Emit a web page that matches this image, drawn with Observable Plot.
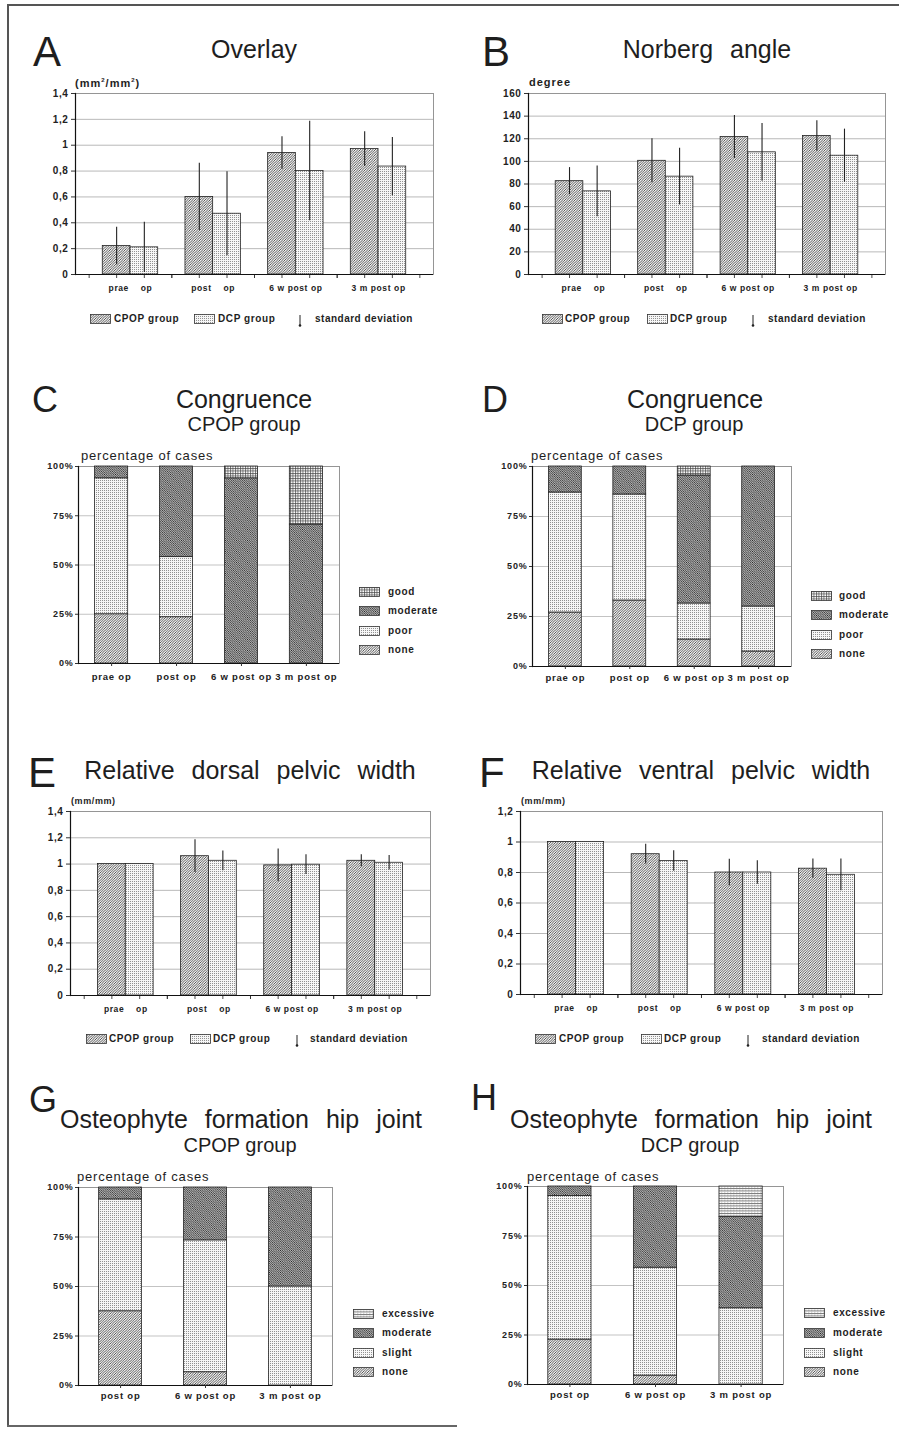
<!DOCTYPE html>
<html>
<head>
<meta charset="utf-8">
<script src="https://cdn.jsdelivr.net/npm/d3@7"></script>
<script src="https://cdn.jsdelivr.net/npm/@observablehq/plot@0.6"></script>
<style>
  html, body { margin: 0; padding: 0; background: #fff; }
  #page { position: relative; width: 899px; height: 1432px; overflow: hidden; background: #fff;
          font-family: "Liberation Sans", Arial, Helvetica, sans-serif; color: #1e1e1e; }
  .t { position: absolute; line-height: 1; white-space: nowrap; }
  .panel { position: absolute; }
  .line { position: absolute; background: #333; }
</style>
</head>
<body>
<svg width="0" height="0" style="position:absolute">
  <defs>
    <pattern id="pFwd" patternUnits="userSpaceOnUse" width="2.5" height="2.5">
      <rect width="2.5" height="2.5" fill="#f4f4f4"/>
      <path d="M-0.625,0.625 L0.625,-0.625 M0,2.5 L2.5,0 M1.875,3.125 L3.125,1.875" stroke="#2e2e2e" stroke-width="0.8"/>
    </pattern>
    <pattern id="pBack" patternUnits="userSpaceOnUse" width="2.2" height="2.2">
      <rect width="2.2" height="2.2" fill="#e6e6e6"/>
      <path d="M-0.55,1.65 L0.55,2.75 M0,0 L2.2,2.2 M1.65,-0.55 L2.75,0.55" stroke="#1e1e1e" stroke-width="0.8"/>
    </pattern>
    <pattern id="pDots" patternUnits="userSpaceOnUse" width="2" height="2">
      <rect width="2" height="2" fill="#f7f7f7"/>
      <rect x="0" y="0" width="0.9" height="0.9" fill="#7a7a7a"/>
    </pattern>
    <pattern id="pGrid" patternUnits="userSpaceOnUse" width="2.5" height="2.5">
      <rect width="2.5" height="2.5" fill="#fff"/>
      <path d="M0.5,0 L0.5,2.5 M0,0.5 L2.5,0.5" stroke="#444" stroke-width="0.7"/>
    </pattern>
    <pattern id="pHoriz" patternUnits="userSpaceOnUse" width="3" height="2.5">
      <rect width="3" height="2.5" fill="#fff"/>
      <path d="M0,0.5 L3,0.5" stroke="#444" stroke-width="0.75"/>
      <rect x="1.5" y="1.5" width="0.7" height="0.7" fill="#888"/>
    </pattern>
  </defs>
</svg>
<div id="page"></div>
<script>
// ---------------- DATA ----------------
const groups = ["prae op", "post op", "6 w post op", "3 m post op"];
const groupTickLabels = ["prae\u00a0\u00a0\u00a0\u00a0op", "post\u00a0\u00a0\u00a0\u00a0op", "6 w post op", "3 m post op"];
const seriesNames = ["CPOP group", "DCP group"];

// A: Overlay (mm²/mm²)
const overlayTicks = [0, 0.2, 0.4, 0.6, 0.8, 1, 1.2, 1.4];
const overlayCPOP   = [0.22, 0.60, 0.94, 0.97];
const overlayCPOPsd = [0.145, 0.26, 0.125, 0.135];
const overlayDCP    = [0.21, 0.47, 0.80, 0.835];
const overlayDCPsd  = [0.195, 0.325, 0.385, 0.225];

// B: Norberg angle (degree)
const norbergTicks = [0, 20, 40, 60, 80, 100, 120, 140, 160];
const norbergCPOP   = [82.5, 100.5, 121.5, 122.5];
const norbergCPOPsd = [12, 19.5, 19, 13.5];
const norbergDCP    = [73.5, 86.5, 108, 105];
const norbergDCPsd  = [22.5, 25, 25.5, 23.5];

// E: Relative dorsal pelvic width (mm/mm)
const dorsalTicks = [0, 0.2, 0.4, 0.6, 0.8, 1, 1.2, 1.4];
const dorsalCPOP   = [1.0, 1.06, 0.99, 1.025];
const dorsalCPOPsd = [0, 0.125, 0.125, 0.045];
const dorsalDCP    = [1.0, 1.025, 0.995, 1.01];
const dorsalDCPsd  = [0, 0.075, 0.075, 0.055];

// F: Relative ventral pelvic width (mm/mm)
const ventralTicks = [0, 0.2, 0.4, 0.6, 0.8, 1, 1.2];
const ventralCPOP   = [1.0, 0.92, 0.80, 0.825];
const ventralCPOPsd = [0, 0.065, 0.087, 0.063];
const ventralDCP    = [1.0, 0.875, 0.80, 0.785];
const ventralDCPsd  = [0, 0.067, 0.077, 0.104];

// C / D: Congruence (percentage of cases)
const percentTicks = [0, 25, 50, 75, 100];
const congruenceGrades = ["none", "poor", "moderate", "good"];
const congCPOPnone     = [25, 23.5, 0, 0];
const congCPOPpoor     = [69, 30.5, 0, 0];
const congCPOPmoderate = [6, 46, 94, 70.5];
const congCPOPgood     = [0, 0, 6, 29.5];
const congDCPnone      = [27, 33, 13.5, 7.5];
const congDCPpoor      = [60, 53, 18, 22.5];
const congDCPmoderate  = [13, 14, 64, 70];
const congDCPgood      = [0, 0, 4.5, 0];

// G / H: Osteophyte formation hip joint (percentage of cases)
const osteoGroups = ["post op", "6 w post op", "3 m post op"];
const osteoGrades = ["none", "slight", "moderate", "excessive"];
const osteoCPOPnone      = [37.5, 6.7, 0];
const osteoCPOPslight    = [56.5, 66.6, 50];
const osteoCPOPmoderate  = [6, 26.7, 50];
const osteoCPOPexcessive = [0, 0, 0];
const osteoDCPnone       = [22.7, 4.5, 0];
const osteoDCPslight     = [72.5, 54.5, 38.5];
const osteoDCPmoderate   = [4.8, 41, 46.1];
const osteoDCPexcessive  = [0, 0, 15.4];

// ---------------- HELPERS ----------------
const FONT = '"Liberation Sans", Arial, Helvetica, sans-serif';
const page = document.getElementById("page");
const decimalComma = d => String(d).replace(".", ",");
const gradePattern = {none: "url(#pFwd)", poor: "url(#pDots)", slight: "url(#pDots)",
                      moderate: "url(#pBack)", good: "url(#pGrid)", excessive: "url(#pHoriz)"};

function txt(s, x, baseline, size, opt = {}) {
  const el = document.createElement("div");
  el.className = "t";
  el.textContent = s;
  el.style.fontSize = size + "px";
  el.style.left = x + "px";
  el.style.top = (baseline - 0.8465 * size) + "px";
  if (opt.anchor === "middle") el.style.transform = "translateX(-50%)";
  if (opt.weight) el.style.fontWeight = opt.weight;
  if (opt.ls) el.style.letterSpacing = opt.ls + "px";
  if (opt.ws) el.style.wordSpacing = opt.ws + "px";
  if (opt.html) el.innerHTML = opt.html;
  page.appendChild(el);
  return el;
}
function swatch(x, cy, fill) {
  const ns = "http://www.w3.org/2000/svg";
  const s = document.createElementNS(ns, "svg");
  s.setAttribute("width", 21); s.setAttribute("height", 10);
  s.style.position = "absolute"; s.style.left = x + "px"; s.style.top = (cy - 5) + "px";
  const r = document.createElementNS(ns, "rect");
  r.setAttribute("x", 0.5); r.setAttribute("y", 0.5); r.setAttribute("width", 20); r.setAttribute("height", 9);
  r.setAttribute("fill", fill); r.setAttribute("stroke", "#333"); r.setAttribute("stroke-width", 0.8);
  s.appendChild(r); page.appendChild(s);
}
function sdSymbol(x, cy) {
  const ns = "http://www.w3.org/2000/svg";
  const s = document.createElementNS(ns, "svg");
  s.setAttribute("width", 6); s.setAttribute("height", 14);
  s.style.position = "absolute"; s.style.left = (x - 3) + "px"; s.style.top = (cy - 5) + "px";
  s.innerHTML = '<line x1="3" y1="1" x2="3" y2="11" stroke="#222" stroke-width="1"/><circle cx="3" cy="11.5" r="1.3" fill="#222"/>';
  page.appendChild(s);
}
function place(node, left, top, width) {
  const d = document.createElement("div");
  d.className = "panel";
  d.style.left = left + "px"; d.style.top = top + "px"; d.style.width = width + "px";
  d.appendChild(node);
  page.appendChild(d);
}

function groupedPanel(cfg) {
  const {left, top, width, height, mL, mR, mT, mB, ticks, cpop, cpopSd, dcp, dcpSd} = cfg;
  const pI = 0.33, pO = 0.33, n = groups.length;
  const step = (width - mL - mR) / (n - pI + 2 * pO);
  const bw = step * (1 - pI);
  const cp = groups.map((g, i) => ({group: g, series: seriesNames[0], value: cpop[i], sd: cpopSd[i]}));
  const dc = groups.map((g, i) => ({group: g, series: seriesNames[1], value: dcp[i], sd: dcpSd[i]}));
  const y0 = ticks[0];
  const tickRule = dx => Plot.ruleX(groups, {x: d => d, y1: y0, y2: y0, insetBottom: -4, dx, stroke: "#333", strokeWidth: 0.9});
  const plot = Plot.plot({
    width, height, marginLeft: mL, marginRight: mR, marginTop: mT, marginBottom: mB,
    style: {fontFamily: FONT, fontSize: "8.5px", fontWeight: "bold", background: "transparent",
            letterSpacing: "0.6px", color: "#222", overflow: "visible"},
    x: {type: "band", domain: groups, paddingInner: pI, paddingOuter: pO, round: false},
    y: {domain: [ticks[0], ticks[ticks.length - 1]]},
    marks: [
      Plot.gridY(ticks.slice(1, -1), {stroke: "#8a8a8a", strokeOpacity: 1, strokeWidth: 0.6}),
      Plot.frame({stroke: "#8a8a8a", strokeWidth: 0.9}),
      Plot.barY(cp, {x: "group", y: "value", fill: "url(#pFwd)", stroke: "#222", strokeWidth: 0.8, insetRight: bw / 2}),
      Plot.barY(dc, {x: "group", y: "value", fill: "url(#pDots)", stroke: "#222", strokeWidth: 0.8, insetLeft: bw / 2}),
      Plot.ruleX(cp.filter(d => d.sd > 0), {x: "group", y1: d => d.value - d.sd, y2: d => d.value + d.sd, dx: -bw / 4, stroke: "#222", strokeWidth: 1.1}),
      Plot.ruleX(dc.filter(d => d.sd > 0), {x: "group", y1: d => d.value - d.sd, y2: d => d.value + d.sd, dx: bw / 4, stroke: "#222", strokeWidth: 1.1}),
      tickRule(-step / 2), tickRule(step / 2), tickRule(-bw / 4), tickRule(bw / 4),
      Plot.ruleY([y0], {stroke: "#111", strokeWidth: 1.2}),
      Plot.frame({anchor: "left", stroke: "#111", strokeWidth: 1.2}),
      Plot.axisY(ticks, {tickSize: 4, tickPadding: 3, tickFormat: decimalComma, label: null, fontSize: 10, stroke: "#333"}),
      Plot.axisX({tickSize: 0, tickPadding: 10, label: null, tickFormat: d => groupTickLabels[groups.indexOf(d)]})
    ]
  });
  place(plot, left, top, width);
}

function stackedPanel(cfg) {
  const {left, top, width, height, mL, mR, mT, mB, xs, grades, series, pI, pO, pad} = cfg;
  const rows = xs.flatMap((g, i) => grades.map((c, j) => ({group: g, grade: c, value: series[j][i]})))
                 .filter(d => d.value > 0);
  const plot = Plot.plot({
    width, height, marginLeft: mL, marginRight: mR, marginTop: mT, marginBottom: mB,
    style: {fontFamily: FONT, fontSize: "9px", fontWeight: "bold", background: "transparent",
            letterSpacing: "0.8px", color: "#222", overflow: "visible"},
    x: {type: "band", domain: xs, paddingInner: pI, paddingOuter: pO, round: false},
    y: {domain: [0, 100]},
    color: {type: "ordinal", domain: grades, range: grades.map(g => gradePattern[g])},
    marks: [
      Plot.gridY([25, 50, 75], {stroke: "#9a9a9a", strokeOpacity: 1, strokeWidth: 0.6}),
      Plot.frame({stroke: "#8a8a8a", strokeWidth: 0.9}),
      Plot.barY(rows, {x: "group", y: "value", fill: "grade", stroke: "#222", strokeWidth: 0.8}),
      Plot.ruleY([0], {stroke: "#111", strokeWidth: 1.2}),
      Plot.frame({anchor: "left", stroke: "#111", strokeWidth: 1.2}),
      Plot.axisY(percentTicks, {tickSize: 3, tickPadding: 2, tickFormat: d => d + "%", label: null, stroke: "#333"}),
      Plot.axisX({tickSize: 3, tickPadding: pad, label: null, stroke: "#333", fontSize: 9.5})
    ]
  });
  place(plot, left, top, width);
}

// ---------------- PLOTS ----------------
groupedPanel({left: 0, top: 85, width: 450, height: 219, mL: 75, mR: 17, mT: 8, mB: 30,
  ticks: overlayTicks, cpop: overlayCPOP, cpopSd: overlayCPOPsd, dcp: overlayDCP, dcpSd: overlayDCPsd});
groupedPanel({left: 450, top: 85, width: 449, height: 219, mL: 78, mR: 14, mT: 8, mB: 30,
  ticks: norbergTicks, cpop: norbergCPOP, cpopSd: norbergCPOPsd, dcp: norbergDCP, dcpSd: norbergDCPsd});
groupedPanel({left: 0, top: 803, width: 450, height: 222, mL: 70, mR: 20, mT: 8, mB: 30,
  ticks: dorsalTicks, cpop: dorsalCPOP, cpopSd: dorsalCPOPsd, dcp: dorsalDCP, dcpSd: dorsalDCPsd});
groupedPanel({left: 450, top: 803, width: 449, height: 221, mL: 70, mR: 17, mT: 8, mB: 30,
  ticks: ventralTicks, cpop: ventralCPOP, cpopSd: ventralCPOPsd, dcp: ventralDCP, dcpSd: ventralDCPsd});

stackedPanel({left: 0, top: 458, width: 450, height: 233, mL: 78, mR: 111, mT: 8, mB: 28, pI: 0.49, pO: 0.255, pad: 7,
  xs: groups, grades: congruenceGrades, series: [congCPOPnone, congCPOPpoor, congCPOPmoderate, congCPOPgood]});
stackedPanel({left: 450, top: 458, width: 449, height: 236, mL: 82, mR: 108, mT: 8, mB: 28, pI: 0.49, pO: 0.255, pad: 5,
  xs: groups, grades: congruenceGrades, series: [congDCPnone, congDCPpoor, congDCPmoderate, congDCPgood]});
stackedPanel({left: 0, top: 1179, width: 450, height: 234, mL: 78, mR: 118, mT: 8, mB: 28, pI: 0.495, pO: 0.243, pad: 4,
  xs: osteoGroups, grades: osteoGrades, series: [osteoCPOPnone, osteoCPOPslight, osteoCPOPmoderate, osteoCPOPexcessive]});
stackedPanel({left: 450, top: 1178, width: 449, height: 234, mL: 77, mR: 116, mT: 8, mB: 28, pI: 0.495, pO: 0.243, pad: 4,
  xs: osteoGroups, grades: osteoGrades, series: [osteoDCPnone, osteoDCPslight, osteoDCPmoderate, osteoDCPexcessive]});

// ---------------- TEXT: letters, titles, axis units ----------------
const T = {ws: 10};
txt("A", 33, 67, 42); txt("Overlay", 254, 58, 25, {anchor: "middle", ...T});
txt("B", 482, 67, 42); txt("Norberg angle", 707, 58, 25, {anchor: "middle", ...T});
txt("", 75, 86, 11, {weight: "bold", ls: 1, html: "(mm<sup style='font-size:6px'>2</sup>/mm<sup style='font-size:6px'>2</sup>)"});
txt("degree", 529, 86, 11, {weight: "bold", ls: 1});

txt("C", 32, 412, 36); txt("Congruence", 244, 408, 25, {anchor: "middle"}); txt("CPOP group", 244, 431, 20, {anchor: "middle"});
txt("D", 482, 412, 36); txt("Congruence", 695, 408, 25, {anchor: "middle"}); txt("DCP group", 694, 431, 20, {anchor: "middle"});
txt("percentage of cases", 81, 460, 13, {ls: 0.8});
txt("percentage of cases", 531, 460, 13, {ls: 0.8});

txt("E", 28, 788, 42); txt("Relative dorsal pelvic width", 250, 779, 25, {anchor: "middle", ...T});
txt("F", 479, 788, 42); txt("Relative ventral pelvic width", 701, 779, 25, {anchor: "middle", ...T});
txt("(mm/mm)", 71, 805, 9, {weight: "bold", ls: 0.6});
txt("(mm/mm)", 521, 805, 9, {weight: "bold", ls: 0.6});

txt("G", 29, 1112, 36); txt("Osteophyte formation hip joint", 241, 1128, 25, {anchor: "middle", ...T});
txt("CPOP group", 240, 1152, 20, {anchor: "middle"});
txt("H", 471, 1110, 36); txt("Osteophyte formation hip joint", 691, 1128, 25, {anchor: "middle", ...T});
txt("DCP group", 690, 1152, 20, {anchor: "middle"});
txt("percentage of cases", 77, 1181, 13, {ls: 0.8});
txt("percentage of cases", 527, 1181, 13, {ls: 0.8});

// ---------------- LEGENDS ----------------
function groupLegend(cy, xs) {
  swatch(xs[0], cy, "url(#pFwd)");  txt(seriesNames[0], xs[1], cy + 3.5, 10, {weight: "bold", ls: 0.6});
  swatch(xs[2], cy, "url(#pDots)"); txt(seriesNames[1], xs[3], cy + 3.5, 10, {weight: "bold", ls: 0.6});
  sdSymbol(xs[4], cy);               txt("standard deviation", xs[5], cy + 3.5, 10, {weight: "bold", ls: 0.5});
}
groupLegend(319, [90, 114, 194, 218, 300, 315]);
groupLegend(319, [542, 565, 647, 670, 753, 768]);
groupLegend(1039, [86, 109, 190, 213, 297, 310]);
groupLegend(1039, [535, 559, 641, 664, 748, 762]);

function gradeLegend(x, lx, ys, grades) {
  const top = grades.slice().reverse();
  top.forEach((g, i) => { swatch(x, ys[i], gradePattern[g]); txt(g, lx, ys[i] + 3.5, 10, {weight: "bold", ls: 0.6}); });
}
gradeLegend(359, 388, [592, 611, 631, 650], congruenceGrades);
gradeLegend(811, 839, [596, 615, 635, 654], congruenceGrades);
gradeLegend(353, 382, [1314, 1333, 1353, 1372], osteoGrades);
gradeLegend(804, 833, [1313, 1333, 1353, 1372], osteoGrades);

// ---------------- page frame lines ----------------
function hline(x, y, w, h, c) { const d = document.createElement("div"); d.className = "line";
  d.style.left = x + "px"; d.style.top = y + "px"; d.style.width = w + "px"; d.style.height = h + "px";
  if (c) d.style.background = c; page.appendChild(d); }
hline(8, 4, 891, 1.5, "#555");
hline(7, 4, 1.5, 1423, "#555");
hline(7, 1425, 450, 1.5, "#666");
</script>
</body>
</html>
